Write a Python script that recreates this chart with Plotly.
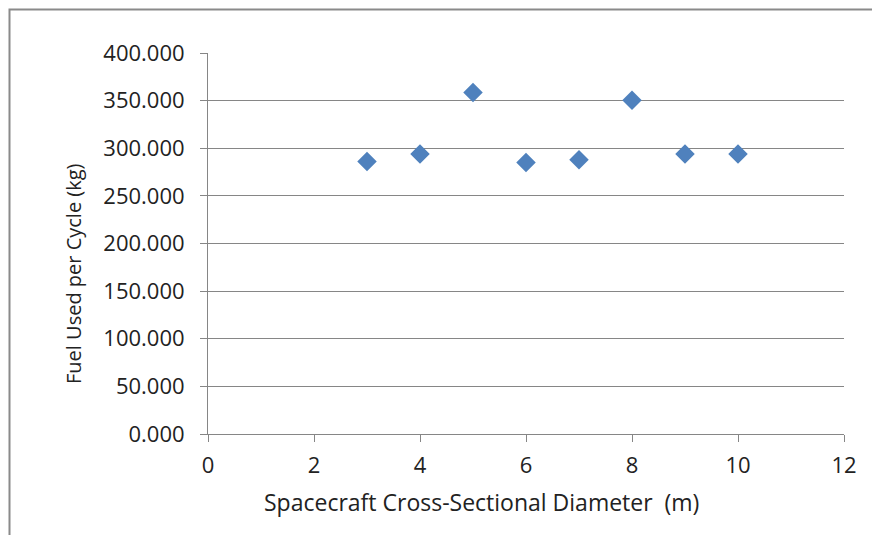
import plotly.graph_objects as go

diameters = [3, 4, 5, 6, 7, 8, 9, 10]
fuel_used = [286, 294, 358.5, 285, 288, 350.5, 294, 294]

x_title = "Spacecraft Cross-Sectional Diameter  (m)"
y_title = "Fuel Used per Cycle (kg)"

FONT = "Open Sans"
GRAY = "#868686"

L, R, T, B = 208, 28, 53, 101
W, H = 872, 535
PW, PH = W - L - R, H - T - B


def px_x(p):
    return (p - L) / PW


def px_y(p):
    return (H - B - p) / PH


fig = go.Figure()
fig.add_trace(go.Scatter(
    x=diameters, y=fuel_used, mode="markers",
    marker=dict(symbol="diamond", size=15, color="#4F81BD",
                line=dict(width=0)),
    showlegend=False, cliponaxis=False,
))

fig.update_layout(
    width=W, height=H,
    margin=dict(l=L, r=R, t=T, b=B),
    paper_bgcolor="white", plot_bgcolor="white",
    font=dict(family=FONT, size=22, color="#222222"),
    xaxis=dict(
        range=[0, 12], dtick=2, tick0=0,
        showgrid=False, zeroline=False,
        showline=True, linecolor=GRAY, linewidth=1,
        ticks="outside", ticklen=7, tickcolor=GRAY, tickwidth=1,
        ticklabelstandoff=5,
        tickfont=dict(size=22),
    ),
    yaxis=dict(
        range=[0, 400], dtick=50, tick0=0, tickformat=".3f",
        showgrid=True, gridcolor=GRAY, gridwidth=1,
        zeroline=False,
        showline=True, linecolor=GRAY, linewidth=1,
        ticks="outside", ticklen=7, tickcolor=GRAY, tickwidth=1,
        ticklabelstandoff=11,
        tickfont=dict(size=22),
    ),
    annotations=[
        dict(text=x_title, xref="paper", yref="paper",
             x=px_x(481), y=px_y(502), xanchor="center", yanchor="middle",
             showarrow=False, font=dict(size=23)),
        dict(text=y_title, xref="paper", yref="paper",
             x=px_x(73), y=px_y(274), xanchor="center", yanchor="middle",
             textangle=-90, showarrow=False, font=dict(size=20)),
    ],
    shapes=[dict(
        type="rect", xref="paper", yref="paper",
        x0=px_x(9.5), x1=px_x(890),
        y0=px_y(560), y1=px_y(9.5),
        line=dict(color="#8a8a8a", width=2), fillcolor="rgba(0,0,0,0)",
        layer="below",
    )],
)

fig.write_html("out.html")
